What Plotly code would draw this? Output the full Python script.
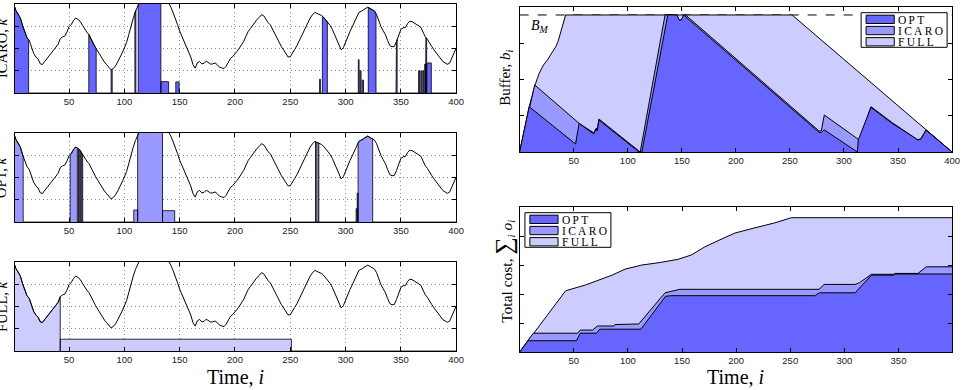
import numpy as np
import plotly.graph_objects as go

W, H = 968, 390

# ---------------- data ----------------
# common signal (left panels), sampled every 2 steps, i = 0..400
sig_x = list(range(0, 401, 2))
sig_y = [
    3.98, 3.70, 3.55, 3.36, 3.02, 2.70, 2.48, 2.36, 2.07, 1.78,
    1.62, 1.52, 1.31, 1.28, 1.42, 1.55, 1.68, 1.82, 1.97, 2.07,
    2.18, 2.44, 2.52, 2.55, 2.73, 2.98, 3.08, 3.26, 3.37, 3.31,
    3.22, 3.05, 2.88, 2.74, 2.62, 2.41, 2.18, 2.04, 1.87, 1.69,
    1.52, 1.39, 1.27, 1.14, 1.04, 1.10, 1.22, 1.40, 1.58, 1.80,
    2.02, 2.27, 2.63, 3.02, 3.36, 3.66, 3.92, 4.15, 4.40, 4.55,
    4.65, 4.72, 4.80, 4.82, 4.80, 4.76, 4.70, 4.58, 4.40, 4.22,
    4.08, 3.86, 3.62, 3.38, 3.08, 2.78, 2.55, 2.32, 2.03, 1.80,
    1.62, 1.28, 1.12, 1.36, 1.42, 1.31, 1.33, 1.43, 1.38, 1.30,
    1.31, 1.35, 1.27, 1.16, 1.13, 1.10, 1.20, 1.39, 1.56, 1.64,
    1.74, 1.88, 2.02, 2.16, 2.33, 2.56, 2.77, 2.90, 3.04, 3.18,
    3.31, 3.40, 3.52, 3.47, 3.28, 3.16, 3.06, 2.86, 2.63, 2.41,
    2.21, 2.08, 1.93, 1.76, 1.62, 1.63, 1.77, 1.96, 2.13, 2.34,
    2.57, 2.78, 2.98, 3.17, 3.37, 3.51, 3.62, 3.58, 3.54, 3.49,
    3.41, 3.28, 3.18, 3.04, 2.86, 2.62, 2.38, 2.16, 1.94, 2.04,
    2.31, 2.54, 2.77, 2.97, 3.18, 3.41, 3.62, 3.67, 3.74, 3.81,
    3.86, 3.80, 3.73, 3.69, 3.52, 3.24, 2.98, 2.80, 2.62, 2.36,
    2.13, 2.08, 2.09, 2.31, 2.62, 2.86, 2.93, 2.94, 3.12, 3.23,
    3.21, 3.14, 3.08, 3.03, 2.96, 2.74, 2.53, 2.41, 2.27, 2.08,
    1.93, 1.80, 1.66, 1.52, 1.41, 1.35, 1.29, 1.34, 1.56, 1.84,
    2.02]

TOP = 9.0  # level above the signal -> fill reaches the signal
# selected level segments (start, end, level)
icaro_start = [0, 67.8, 88.0, 109.5, 112.5, 133.0, 146.5, 276.5, 279.0, 311.5, 313.0, 315.0,
               320.5, 345.6, 366.0, 368.0, 369.8, 371.5, 372.6, 373.5]
icaro_end = [13.4, 74.5, 89.0, 110.4, 133.0, 140.0, 149.5, 277.2, 283.5, 312.2, 314.0, 316.2,
             327.5, 346.6, 366.8, 368.8, 370.6, 372.3, 373.3, 377.5]
icaro_level = [TOP, TOP, TOP, TOP, TOP, 0.51, 0.5, 0.62, TOP, 1.5, 1.0, 0.58,
               TOP, TOP, 1.0, 1.0, 1.0, 1.3, TOP, 1.35]

opt_start = [0, 51.0, 58.5, 60.0, 61.5, 108.5, 112.0, 134.5, 272.8, 275.0, 309.5, 310.5, 311.3]
opt_end = [8.5, 57.5, 59.2, 60.8, 62.3, 112.0, 134.5, 145.5, 273.5, 275.8, 310.5, 311.3, 324.5]
opt_level = [TOP, TOP, TOP, TOP, TOP, 0.54, TOP, 0.51, TOP, TOP, 0.6, 1.3, TOP]

full_start = [0, 42.0]
full_end = [42.0, 251.0]
full_level = [TOP, 0.53]

# buffer occupancy b_i
BM = 3.78
buf_full_x = [0, 8.8, 14.3, 18, 22, 25.7, 29, 33.3, 35.5, 37.9, 42.5, 252, 400]
buf_full_y = [0, 1.25, 1.85, 2.17, 2.40, 2.54, 2.70, 2.90, 3.05, 3.28, 3.78, 3.78, 0]

buf_icaro_x = [0, 13.9, 55, 68.4, 70.9, 71.8, 73.3, 111.5, 134.5, 145.5, 147.5, 149.5, 153.5,
               274, 277, 279, 281.8, 314.2, 325, 344.6, 366, 368, 371, 376, 400]
buf_icaro_y = [0, 1.85, 0.79, 0.53, 0.66, 0.61, 0.91, 0.0, 3.78, 3.78, 3.64, 3.64, 3.78,
               0.66, 0.58, 0.58, 1.02, 0.33, 1.25, 0.81, 0.39, 0.34, 0.36, 0.61, 0]

buf_opt_x = [0, 8.8, 51.7, 55, 68.4, 70.9, 71.8, 73.3, 110.5, 113, 137, 145.5, 147.5, 149.5, 151.6,
             274, 277, 279, 281.8, 312.4, 313.2, 325, 344.6, 366, 368, 371, 376, 400]
buf_opt_y = [0, 1.25, 0.22, 0.79, 0.50, 0.63, 0.58, 0.88, 0.0, 0.0, 3.78, 3.78, 3.64, 3.64, 3.78,
             0.61, 0.54, 0.54, 0.61, 0.0, 0.33, 1.23, 0.79, 0.38, 0.33, 0.35, 0.60, 0]

# cumulative cost
cost_full_x = [0, 42.5, 60.8, 73, 85.3, 97.5, 112.8, 130, 146.5, 158.7, 171, 183, 199, 217.4,
               235.7, 251, 399.5]
cost_full_y = [0, 2.12, 2.32, 2.49, 2.66, 2.87, 3.01, 3.10, 3.21, 3.36, 3.64, 3.85, 4.12, 4.30,
               4.47, 4.65, 4.65]

cost_icaro_x = [0, 12.5, 53.5, 56, 67.3, 71.8, 87, 88, 110, 134.3, 148, 276.6, 281.3, 310, 314,
                325, 345.5, 347, 368, 375.7, 399.5]
cost_icaro_y = [0, 0.65, 0.65, 0.76, 0.76, 0.90, 0.90, 0.95, 0.97, 2.05, 2.17, 2.17, 2.34, 2.34,
                2.40, 2.69, 2.69, 2.72, 2.72, 2.95, 2.95]

cost_opt_x = [0, 7.7, 52.4, 56, 71, 74, 112, 134.8, 140, 272.6, 277.1, 310, 325, 345.5, 347, 399.5]
cost_opt_y = [0, 0.39, 0.39, 0.65, 0.65, 0.79, 0.79, 1.93, 1.95, 1.95, 2.05, 2.05, 2.66, 2.66,
              2.70, 2.70]

legend_names = ["OPT", "ICARO", "FULL"]
C_OPT, C_ICARO, C_FULL = "#6666ff", "#9999ff", "#ccccff"

# ---------------- helpers ----------------
def sig_at(x):
    return float(np.interp(x, sig_x, sig_y))


def fill_poly(starts, ends, levels):
    xs, ys = [0.0], [0.0]
    for a, b, lev in zip(starts, ends, levels):
        xs += [a, a]
        ys += [0.0, min(lev, sig_at(a))]
        for g in sig_x:
            if a < g < b:
                xs.append(g)
                ys.append(min(lev, sig_at(g)))
        xs += [b, b]
        ys += [min(lev, sig_at(b)), 0.0]
    xs.append(400.0)
    ys.append(0.0)
    return xs, ys


def px_x(p):
    return p / W


def px_y(p):
    return 1 - p / H


TICKFONT = dict(family="Liberation Sans", size=9.5, color="#222222")


def axis(domain, rng, tickvals, labels=True, grid=False, anchor=None):
    d = dict(domain=domain, range=rng, tickmode="array", tickvals=tickvals,
             showline=True, linecolor="black", linewidth=1, mirror="ticks",
             ticks="inside", ticklen=4, tickwidth=1, tickcolor="black",
             showgrid=grid, gridcolor="#8a8a8a", griddash="1px,3px", gridwidth=1,
             zeroline=False, showticklabels=labels, tickfont=TICKFONT)
    if anchor:
        d["anchor"] = anchor
    return d


fig = go.Figure()

# ---------------- left panels ----------------
left_sets = [
    ("x", "y", icaro_start, icaro_end, icaro_level, C_OPT),
    ("x2", "y2", opt_start, opt_end, opt_level, C_ICARO),
    ("x3", "y3", full_start, full_end, full_level, C_FULL),
]
for xa, ya, s, e, l, col in left_sets:
    fx, fy = fill_poly(s, e, l)
    fig.add_trace(go.Scatter(x=fx, y=fy, mode="lines", fill="tozeroy", fillcolor=col,
                             line=dict(color="black", width=0.8), xaxis=xa, yaxis=ya,
                             showlegend=False, hoverinfo="skip"))
    fig.add_trace(go.Scatter(x=sig_x, y=sig_y, mode="lines",
                             line=dict(color="black", width=1), xaxis=xa, yaxis=ya,
                             showlegend=False, hoverinfo="skip"))

# ---------------- buffer panel ----------------
fig.add_trace(go.Scatter(x=[0, 400], y=[BM, BM], mode="lines",
                         line=dict(color="black", width=1, dash="dash"),
                         xaxis="x4", yaxis="y4", showlegend=False, hoverinfo="skip"))
for bx, by, col in [(buf_full_x, buf_full_y, C_FULL), (buf_icaro_x, buf_icaro_y, C_ICARO),
                    (buf_opt_x, buf_opt_y, C_OPT)]:
    fig.add_trace(go.Scatter(x=bx, y=by, mode="lines", fill="tozeroy", fillcolor=col,
                             line=dict(color="black", width=1), xaxis="x4", yaxis="y4",
                             showlegend=False, hoverinfo="skip"))

# ---------------- cost panel ----------------
for cx, cy, col in [(cost_full_x, cost_full_y, C_FULL), (cost_icaro_x, cost_icaro_y, C_ICARO),
                    (cost_opt_x, cost_opt_y, C_OPT)]:
    fig.add_trace(go.Scatter(x=cx, y=cy, mode="lines", fill="tozeroy", fillcolor=col,
                             line=dict(color="black", width=1), xaxis="x5", yaxis="y5",
                             showlegend=False, hoverinfo="skip"))

# ---------------- layout ----------------
LX = [px_x(15), px_x(460)]
RX = [px_x(524), px_x(960)]
xt_left = [50, 100, 150, 200, 250, 300, 350, 400]

layout = dict(
    width=W, height=H, margin=dict(l=0, r=0, t=0, b=0),
    paper_bgcolor="white", plot_bgcolor="white", showlegend=False,
    xaxis=axis(LX, [1, 400], xt_left, grid=True, anchor="y"),
    yaxis=axis([px_y(93), px_y(4)], [0, 4], [1, 2, 3], labels=False, grid=True, anchor="x"),
    xaxis2=axis(LX, [1, 400], xt_left, grid=True, anchor="y2"),
    yaxis2=axis([px_y(222), px_y(133)], [0, 4], [1, 2, 3], labels=False, grid=True, anchor="x2"),
    xaxis3=axis(LX, [1, 400], xt_left, grid=True, anchor="y3"),
    yaxis3=axis([px_y(351), px_y(262)], [0, 4], [1, 2, 3], labels=False, grid=True, anchor="x3"),
    xaxis4=axis(RX, [0, 400], xt_left, anchor="y4"),
    yaxis4=axis([px_y(152), px_y(7)], [0, 4], [1, 2, 3], labels=False, anchor="x4"),
    xaxis5=axis(RX, [0, 399.5], [50, 100, 150, 200, 250, 300, 350], anchor="y5"),
    yaxis5=axis([px_y(352), px_y(207)], [0, 5.02], [1, 2, 3, 4], labels=False, anchor="x5"),
)
fig.update_layout(**layout)

SERIF = "Liberation Serif"
ann = []


def add_text(x, y, text, size, angle=0, xanchor="center", yanchor="middle"):
    ann.append(dict(x=px_x(x), y=px_y(y), xref="paper", yref="paper", text=text,
                    showarrow=False, textangle=angle, xanchor=xanchor, yanchor=yanchor,
                    font=dict(family=SERIF, size=size, color="black")))


add_text(1.5, 48.5, "ICARO, <i>k</i>", 14.5, angle=-90)
add_text(1.5, 177.5, "OPT, <i>k</i>", 14.5, angle=-90)
add_text(1.5, 306.5, "FULL, <i>k</i>", 14.5, angle=-90)
add_text(510, 78, "Buffer, <i>b</i><sub><i>i</i></sub>", 15, angle=-90)
add_text(508, 271, "Total cost, <span style='font-size:24px'>∑</span><sub><i>i</i></sub> "
         "<i>o</i><sub><i>i</i></sub>", 15.5, angle=-90)
add_text(237.5, 377, "Time, <i>i</i>", 20)
add_text(741.5, 377, "Time, <i>i</i>", 20)
add_text(545, 27, "<i>B</i><sub><i>M</i></sub>", 14)

# manual legends
shapes = []
leg_cols = [C_OPT, C_ICARO, C_FULL]
for bx0, by0 in [(868.3, 12.7), (529.3, 212.7)]:
    shapes.append(dict(type="rect", xref="paper", yref="paper",
                       x0=px_x(bx0), x1=px_x(bx0 + 86.7), y0=px_y(by0 + 34.6), y1=px_y(by0),
                       fillcolor="white", line=dict(color="black", width=1)))
    for k, (nm, col) in enumerate(zip(legend_names, leg_cols)):
        top = by0 + 2.5 + k * 11.2
        shapes.append(dict(type="rect", xref="paper", yref="paper",
                           x0=px_x(bx0 + 5), x1=px_x(bx0 + 33.4),
                           y0=px_y(top + 8.3), y1=px_y(top),
                           fillcolor=col, line=dict(color="black", width=1)))
        ann.append(dict(x=px_x(bx0 + 35.5), y=px_y(top + 4.4), xref="paper", yref="paper",
                        text="\u2009".join(nm), showarrow=False, xanchor="left",
                        yanchor="middle", font=dict(family=SERIF, size=11.5, color="black")))

fig.update_layout(annotations=ann, shapes=shapes)
fig.write_html("out.html")
